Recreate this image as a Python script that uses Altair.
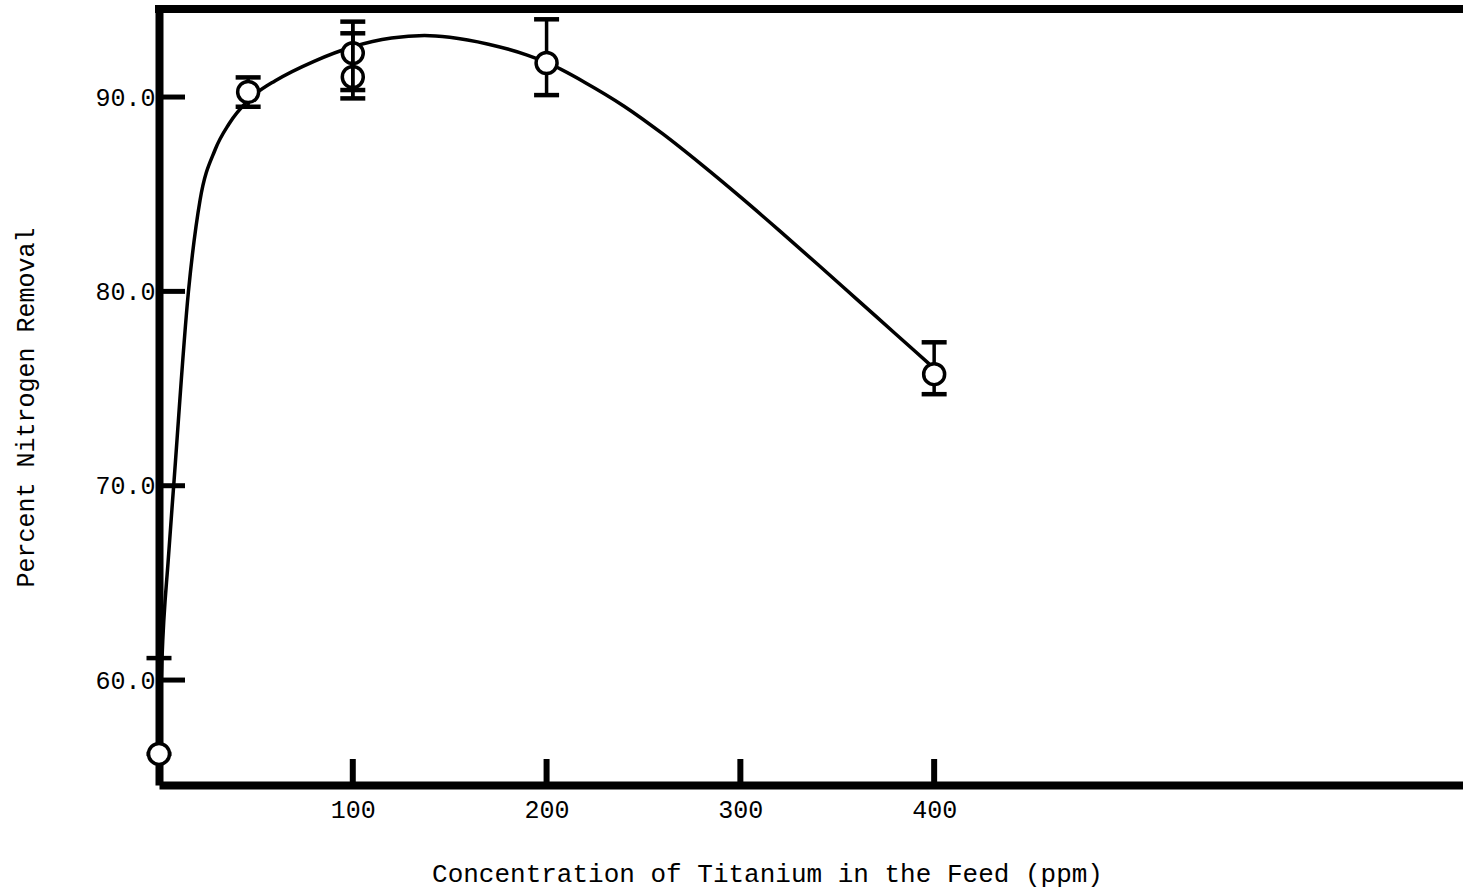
import altair as alt
import pandas as pd

# Measured nitrogen removal versus titanium in the feed
conc_ppm = [0, 46, 100, 100, 200, 400]
removal_pct = [56.2, 90.26, 92.26, 91.03, 91.75, 75.74]
removal_low = [56.2, 89.5, 90.36, 89.93, 90.1, 74.71]
removal_high = [61.13, 91.01, 93.88, 93.28, 94.0, 77.38]

# Smooth trend curve drawn through the measurements
curve_ppm = [0, 1.5, 4.85, 7.8, 15.2, 21.2, 29, 36, 46, 50, 60, 80, 100, 120,
             137, 150, 170, 190, 200, 220, 240, 260, 280, 300, 320, 340, 360,
             380, 400]
curve_pct = [56.2, 61.0, 66.3, 70.3, 80.0, 84.7, 87.3, 88.6, 89.82, 90.18,
             90.84, 91.84, 92.59, 93.04, 93.17, 93.08, 92.72, 92.16, 91.78,
             90.74, 89.53, 88.1, 86.52, 84.86, 83.14, 81.38, 79.6, 77.82, 76.04]

x_ticks = [100, 200, 300, 400]
y_ticks = [60.0, 70.0, 80.0, 90.0]

W, H = 1304, 776
FONT = "Liberation Mono"
INK = "black"

points = pd.DataFrame({
    "ppm": conc_ppm,
    "pct": removal_pct,
    "low": removal_low,
    "high": removal_high,
})
curve = pd.DataFrame({"ppm": curve_ppm, "pct": curve_pct})
xt = pd.DataFrame({"t": x_ticks})
yt = pd.DataFrame({"t": y_ticks})
one = pd.DataFrame({"a": [0]})

x_scale = alt.Scale(domain=[0, 672.9], nice=False, zero=False)
y_scale = alt.Scale(domain=[54.6, 94.53], nice=False, zero=False)

x_axis = alt.Axis(
    values=x_ticks, format="d", grid=False, ticks=False, tickSize=0,
    domainWidth=8, domainColor=INK,
    labelFont=FONT, labelFontSize=25, labelColor=INK, labelPadding=12,
    title="Concentration of Titanium in the Feed (ppm)",
    titleFont=FONT, titleFontSize=26, titleFontWeight="normal", titleColor=INK,
    titleX=608, titleY=88, titleAlign="center", titleBaseline="middle",
)
y_axis = alt.Axis(
    values=y_ticks, format=".1f", grid=False, ticks=False, tickSize=0,
    domainWidth=8, domainColor=INK,
    labelFont=FONT, labelFontSize=25, labelColor=INK, labelPadding=4,
    title="Percent Nitrogen Removal",
    titleFont=FONT, titleFontSize=25, titleFontWeight="normal", titleColor=INK,
    titleX=-134, titleY=398, titleAngle=270, titleAlign="center",
    titleBaseline="middle",
)

trend = alt.Chart(curve).mark_line(
    color=INK, strokeWidth=3.5, interpolate="monotone"
).encode(
    x=alt.X("ppm:Q", scale=x_scale, axis=x_axis),
    y=alt.Y("pct:Q", scale=y_scale, axis=y_axis),
)

bars = alt.Chart(points).mark_rule(color=INK, strokeWidth=3.5).encode(
    x=alt.X("ppm:Q", scale=x_scale),
    y=alt.Y("low:Q", scale=y_scale),
    y2="high:Q",
)
cap_lo = alt.Chart(points).mark_tick(
    orient="horizontal", size=25, thickness=4.5, color=INK, opacity=1
).encode(x=alt.X("ppm:Q", scale=x_scale), y=alt.Y("low:Q", scale=y_scale))
cap_hi = alt.Chart(points).mark_tick(
    orient="horizontal", size=25, thickness=4.5, color=INK, opacity=1
).encode(x=alt.X("ppm:Q", scale=x_scale), y=alt.Y("high:Q", scale=y_scale))

circles = alt.Chart(points).mark_point(
    shape="circle", size=440, filled=True, fill="white", stroke=INK,
    strokeWidth=3.5, opacity=1
).encode(x=alt.X("ppm:Q", scale=x_scale), y=alt.Y("pct:Q", scale=y_scale))

# the paired runs at 100 ppm have their bars crossing both circles
bars_over = bars.transform_filter(alt.datum.ppm == 100)

# inward tick marks on both axes
x_marks = alt.Chart(xt).mark_rule(color=INK, strokeWidth=6).encode(
    x=alt.X("t:Q", scale=x_scale), y=alt.value(H), y2=alt.value(H - 26)
)
y_marks = alt.Chart(yt).mark_rule(color=INK, strokeWidth=5).encode(
    y=alt.Y("t:Q", scale=y_scale), x=alt.value(0), x2=alt.value(26)
)

# top edge of the frame
top_edge = alt.Chart(one).mark_rule(color=INK, strokeWidth=8).encode(
    x=alt.value(-4), x2=alt.value(W), y=alt.value(0)
)

chart = alt.layer(
    trend, x_marks, y_marks, top_edge, bars, cap_lo, cap_hi, circles, bars_over
).properties(
    width=W, height=H,
    autosize=alt.AutoSizeParams(type="none"),
    padding={"left": 159, "top": 9, "right": 0, "bottom": 105},
    background="white",
).configure_view(stroke=None)

chart.save("out.html", embed_options={"renderer": "svg", "actions": False})
